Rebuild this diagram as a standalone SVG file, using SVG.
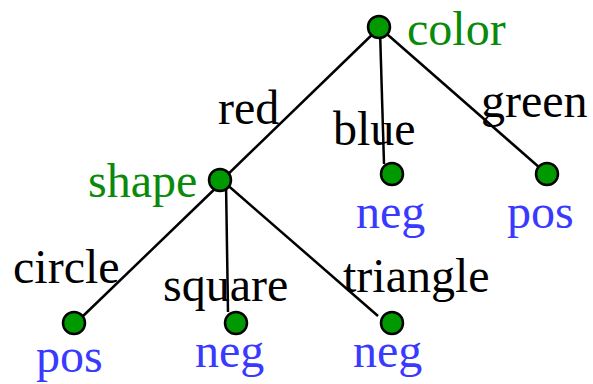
<svg xmlns="http://www.w3.org/2000/svg" width="593" height="384" viewBox="0 0 593 384">
<style>
.edge{stroke:#000;stroke-width:2.5;fill:none}
.node{fill:#009900;stroke:#000;stroke-width:2.5}
.lab{fill:#000}
.attr{fill:#0a8a0a}
.cls{fill:#3a3aff}
</style>
<rect width="593" height="384" fill="#fff"/>
<g id="connectors">
<line class="edge" x1="379" y1="28" x2="221" y2="181"/>
<line class="edge" x1="380" y1="30" x2="384" y2="164"/>
<line class="edge" x1="380" y1="28" x2="540" y2="168"/>
<line class="edge" x1="222" y1="182" x2="81" y2="318"/>
<line class="edge" x1="226" y1="182" x2="228" y2="312"/>
<line class="edge" x1="224" y1="182" x2="378" y2="316"/>
<text class="lab" x="218" y="124" font-family="'Liberation Serif', serif" font-size="48">red</text>
<text class="lab" x="333" y="145" font-family="'Liberation Serif', serif" font-size="48">blue</text>
<text class="lab" x="481" y="117" font-family="'Liberation Serif', serif" font-size="48">green</text>
<text class="lab" x="13" y="283" font-family="'Liberation Serif', serif" font-size="48">circle</text>
<text class="lab" x="163" y="301" font-family="'Liberation Serif', serif" font-size="48">square</text>
<text class="lab" x="343" y="292" font-family="'Liberation Serif', serif" font-size="48">triangle</text>
</g>
<g id="node-color">
<circle class="node" cx="379" cy="27" r="11"/>
<text class="attr" x="407" y="45" font-family="'Liberation Serif', serif" font-size="48">color</text>
</g>
<g id="node-shape">
<circle class="node" cx="220" cy="180" r="11"/>
<text class="attr" x="88" y="197" font-family="'Liberation Serif', serif" font-size="48">shape</text>
</g>
<g id="leaf-blue">
<circle class="node" cx="392" cy="174" r="11"/>
<text class="cls" x="356" y="228" font-family="'Liberation Serif', serif" font-size="48">neg</text>
</g>
<g id="leaf-green">
<circle class="node" cx="547" cy="174" r="11"/>
<text class="cls" x="507" y="228" font-family="'Liberation Serif', serif" font-size="48">pos</text>
</g>
<g id="leaf-circle">
<circle class="node" cx="74" cy="323" r="11"/>
<text class="cls" x="36" y="372" font-family="'Liberation Serif', serif" font-size="48">pos</text>
</g>
<g id="leaf-square">
<circle class="node" cx="236" cy="323" r="11"/>
<text class="cls" x="195" y="367" font-family="'Liberation Serif', serif" font-size="48">neg</text>
</g>
<g id="leaf-triangle">
<circle class="node" cx="392" cy="323" r="11"/>
<text class="cls" x="353" y="367" font-family="'Liberation Serif', serif" font-size="48">neg</text>
</g>
</svg>
